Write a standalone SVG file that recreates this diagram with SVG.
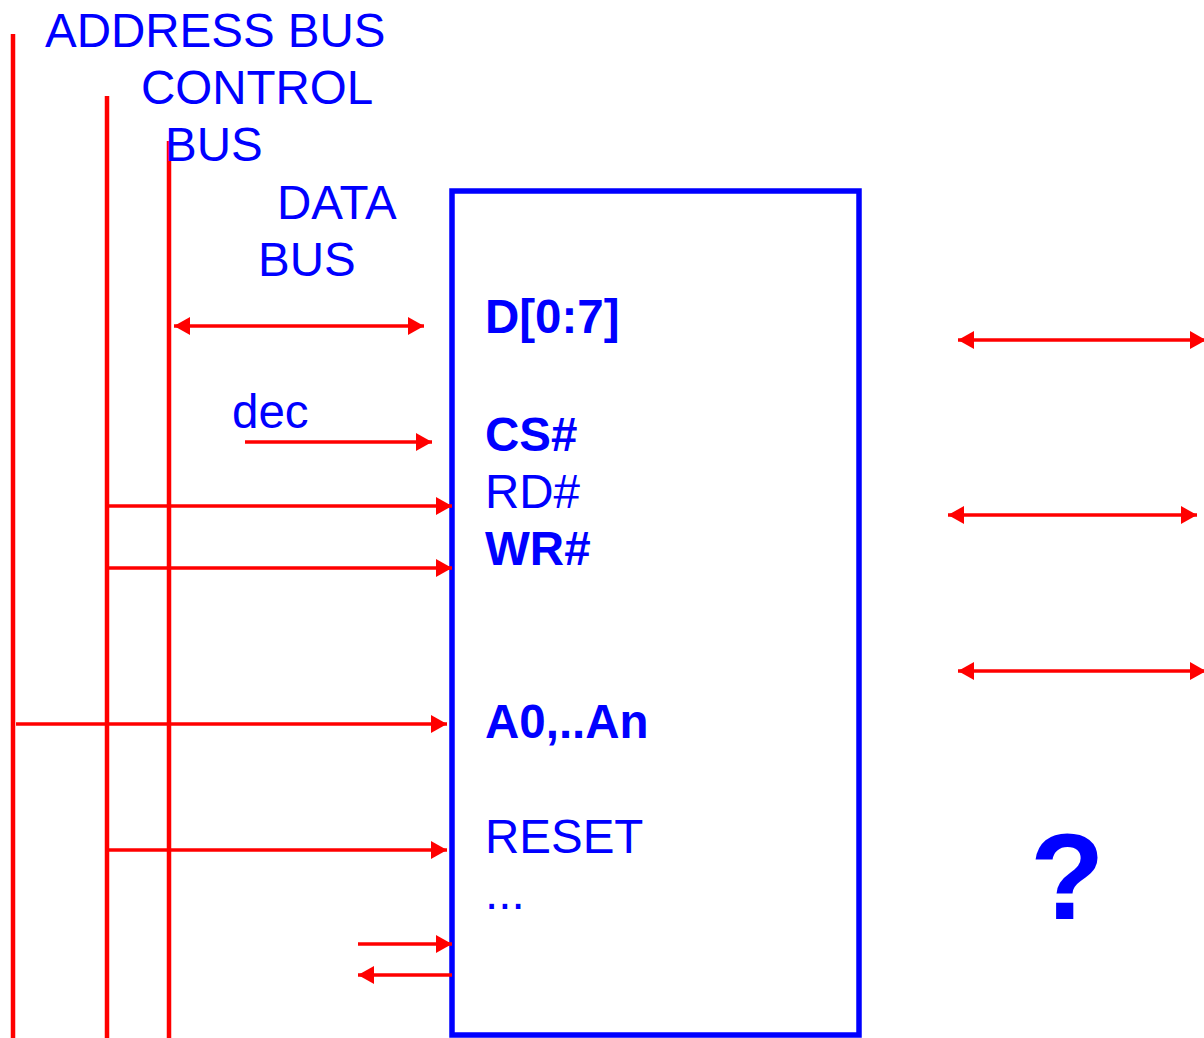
<svg xmlns="http://www.w3.org/2000/svg" width="1204" height="1038" viewBox="0 0 1204 1038">
<style>
.t{font-family:"Liberation Sans",Arial,sans-serif;font-size:47.5px;fill:#0000ff}
.b{font-weight:bold}
.bus{stroke:#ff0000;stroke-width:4.5;fill:none}
.w{stroke:#ff0000;stroke-width:3.5;fill:none}
</style>
<defs>
<marker id="ah" viewBox="0 0 16 18" refX="16" refY="9" markerWidth="16" markerHeight="18" markerUnits="userSpaceOnUse" orient="auto-start-reverse">
<path d="M0,0 L16,9 L0,18 Z" fill="#ff0000"/>
</marker>
</defs>
<rect width="1204" height="1038" fill="#ffffff"/>
<g id="buses">
<line class="bus" x1="13" y1="34" x2="13" y2="1038"/>
<line class="bus" x1="107" y1="96" x2="107" y2="1038"/>
<line class="bus" x1="169" y1="141" x2="169" y2="1038"/>
</g>
<g id="bus-labels">
<text class="t" x="45" y="47">ADDRESS BUS</text>
<text class="t" x="141" y="104">CONTROL</text>
<text class="t" x="165" y="161">BUS</text>
<text class="t" x="277" y="219">DATA</text>
<text class="t" x="258" y="276">BUS</text>
<text class="t" x="232" y="428">dec</text>
</g>
<g id="chip">
<rect x="452" y="191" width="407" height="844" fill="none" stroke="#0000ff" stroke-width="5.5"/>
<text class="t b" x="485" y="333">D[0:7]</text>
<text class="t b" x="485" y="451">CS#</text>
<text class="t" x="485" y="508">RD#</text>
<text class="t b" x="485" y="565">WR#</text>
<text class="t b" x="485" y="738">A0,..An</text>
<text class="t" x="485" y="853">RESET</text>
<text class="t" x="485" y="909">...</text>
</g>
<g id="question">
<text class="t b" x="1030" y="919" style="font-size:122px">?</text>
</g>
<g id="connectors">
<line class="w" x1="174" y1="326" x2="424" y2="326" marker-start="url(#ah)" marker-end="url(#ah)"/>
<line class="w" x1="245" y1="442" x2="432" y2="442" marker-end="url(#ah)"/>
<line class="w" x1="107" y1="506" x2="452" y2="506" marker-end="url(#ah)"/>
<line class="w" x1="107" y1="568" x2="452" y2="568" marker-end="url(#ah)"/>
<line class="w" x1="16" y1="724" x2="447" y2="724" marker-end="url(#ah)"/>
<line class="w" x1="107" y1="850" x2="447" y2="850" marker-end="url(#ah)"/>
<line class="w" x1="358" y1="944" x2="452" y2="944" marker-end="url(#ah)"/>
<line class="w" x1="452" y1="975" x2="358" y2="975" marker-end="url(#ah)"/>
<line class="w" x1="958" y1="340" x2="1206" y2="340" marker-start="url(#ah)" marker-end="url(#ah)"/>
<line class="w" x1="948" y1="515" x2="1197" y2="515" marker-start="url(#ah)" marker-end="url(#ah)"/>
<line class="w" x1="958" y1="671" x2="1206" y2="671" marker-start="url(#ah)" marker-end="url(#ah)"/>
</g>
</svg>
